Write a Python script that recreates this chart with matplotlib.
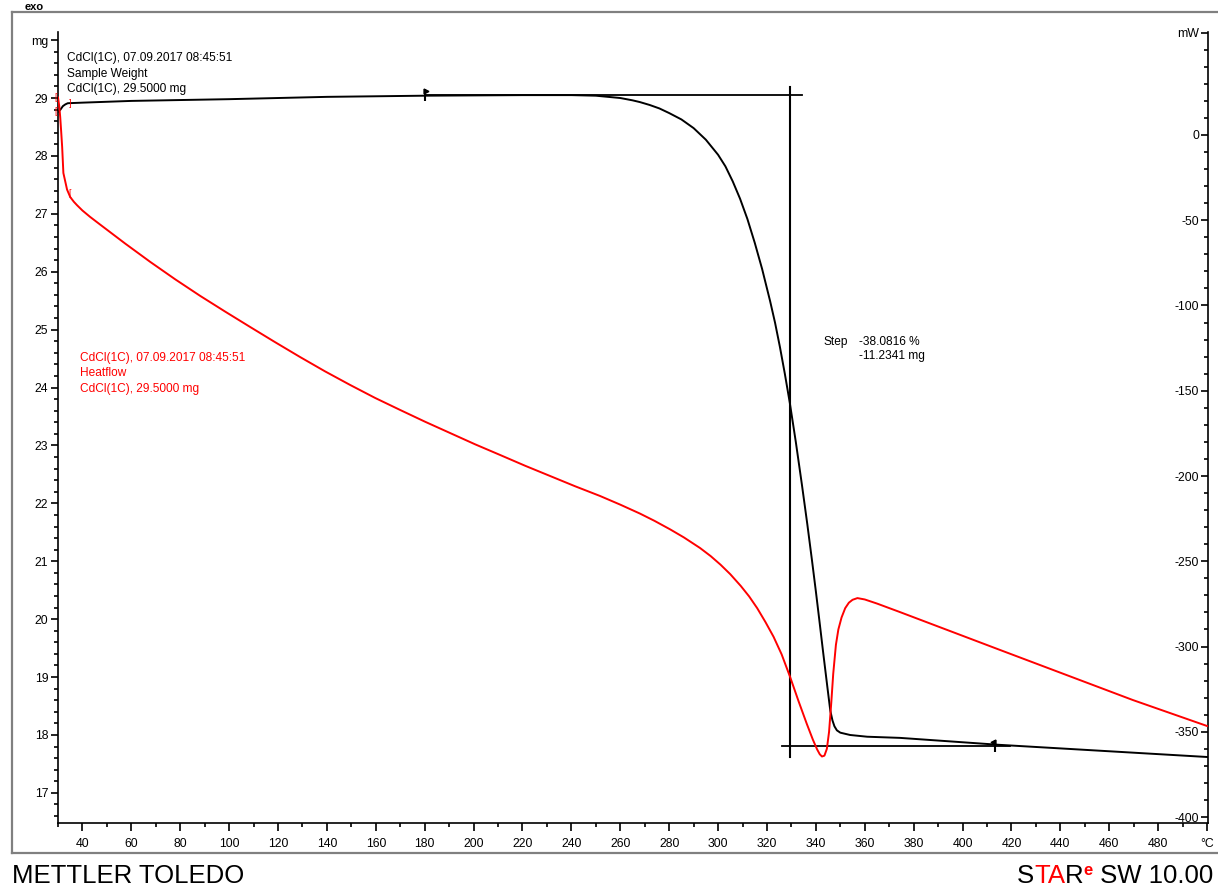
import matplotlib
matplotlib.use("Agg")
import matplotlib.pyplot as plt
from matplotlib.ticker import MultipleLocator
from matplotlib.lines import Line2D

W, H = 1218, 886
FONT = "Liberation Sans"

# TGA curve (sample weight, mg)
tga_T = [30.0, 31.0, 32.0, 33.0, 34.0, 40.0, 60.0, 100.0, 140.0, 180.0, 220.0,
         240.0, 250.0, 255.0, 260.0, 265.0, 268.0, 272.0, 276.0, 280.0, 285.0,
         290.0, 295.0, 300.0, 303.0, 306.0, 309.0, 312.0, 315.0, 318.0, 321.3,
         323.3, 325.3, 327.3, 329.4, 331.8, 334.3, 336.5, 338.4, 340.0, 341.4,
         343.0, 344.7, 345.9, 346.8, 347.6, 348.6, 350.0, 352.0, 354.0, 361.0,
         374.4, 415.0, 500.0]
tga_mg = [28.76, 28.80, 28.86, 28.89, 28.91, 28.92, 28.95, 28.98, 29.02, 29.04, 29.05,
          29.05, 29.04, 29.02, 29.00, 28.96, 28.93, 28.88, 28.82, 28.74, 28.63,
          28.48, 28.28, 28.02, 27.82, 27.56, 27.26, 26.91, 26.50, 26.05, 25.49,
          25.12, 24.70, 24.24, 23.72, 23.06, 22.32, 21.64, 21.02, 20.48, 19.99,
          19.42, 18.83, 18.42, 18.25, 18.15, 18.08, 18.04, 18.02, 18.00, 17.97,
          17.95, 17.83, 17.62]

# heat flow curve (mW)
dsc_T = [30.0, 30.5, 30.9, 31.3, 31.7, 32.2, 33.7, 35.0, 36.5, 37.8, 40.0, 43.1,
         47.2, 57.5, 67.8, 78.0, 88.2, 98.4, 108.6, 118.8, 129.0, 139.2, 149.5,
         159.7, 170.0, 180.2, 190.4, 200.6, 210.9, 221.1, 231.3, 241.5, 251.7,
         260.0, 268.0, 274.0, 280.4, 286.0, 292.6, 297.0, 301.0, 305.0, 309.3,
         312.7, 316.0, 319.4, 322.7, 326.0, 329.5, 332.9, 336.3, 338.8, 340.5,
         341.6, 342.5, 343.5, 344.5, 345.4, 346.3, 347.1, 348.2, 349.2, 350.5,
         352.0, 353.5, 355.0, 357.0, 360.0, 365.0, 374.4, 415.3, 469.7, 500.0]
dsc_mW = [22.0, 17.0, 10.6, 2.0, -7.0, -22.3, -32.0, -36.4, -39.2, -41.2, -44.3, -48.0,
          -52.5, -63.7, -74.5, -84.7, -94.4, -103.6, -112.6, -121.5, -130.2, -138.6,
          -146.6, -154.2, -161.3, -168.2, -174.8, -181.4, -187.7, -194.0, -200.0,
          -206.0, -211.7, -216.8, -222.0, -226.3, -231.3, -236.0, -242.2, -247.0,
          -252.0, -257.6, -264.5, -270.6, -277.5, -285.7, -294.3, -304.6, -318.0,
          -332.0, -345.4, -354.7, -360.3, -363.2, -364.5, -364.0, -360.0, -350.0,
          -333.0, -316.0, -299.0, -290.0, -283.0, -277.5, -274.3, -272.6, -271.6,
          -272.4, -274.8, -279.8, -302.0, -331.4, -346.6]

# step evaluation
step_T = 329.4
step_upper, step_lower = 29.05, 17.81
upper_line_T = [180.0, 334.3]
lower_line_T = [326.0, 419.4]
flag_T = [180.0, 413.2]

fig = plt.figure(figsize=(W / 100, H / 100), dpi=100)
ax = fig.add_axes([58 / W, 1 - 823 / H, (1208 - 58) / W, (823 - 32) / H])
ax2 = ax.twinx()

for a in (ax, ax2):
    a.set_facecolor("none")
    a.spines["top"].set_visible(False)
    for s in a.spines.values():
        s.set_linewidth(1.2)
ax.spines["right"].set_visible(False)
ax2.spines["left"].set_visible(False)
ax2.spines["bottom"].set_visible(False)

ax.set_xlim(30, 500.4)
ax.set_ylim(16.48, 30.14)
ax2.set_ylim(-403.5, 60.4)

tick_font = dict(fontsize=8.8, family=FONT)
xt = list(range(40, 501, 20))
ax.set_xticks(xt, labels=[str(v) for v in xt[:-1]] + ["\u00b0C"], **tick_font)
ax.xaxis.set_minor_locator(MultipleLocator(10))
yt = list(range(17, 31))
ax.set_yticks(yt, labels=[str(v) for v in yt[:-1]] + ["mg"], **tick_font)
ax.yaxis.set_minor_locator(MultipleLocator(0.2))
rt = list(range(-400, 1, 50)) + [60]
rl = [str(v) for v in rt[:-1]] + ["mW"]
ax2.set_yticks(rt, labels=rl, ha="right", **tick_font)
ax2.yaxis.set_minor_locator(MultipleLocator(10))

ax.tick_params(axis="both", which="major", length=5, width=1.2, pad=2)
ax.tick_params(axis="both", which="minor", length=3, width=1.2)
ax.tick_params(axis="x", which="major", length=6, pad=5)
ax2.tick_params(axis="y", which="major", direction="in", length=5, width=1.2, pad=-6.5)
ax2.tick_params(axis="y", which="minor", direction="in", length=3, width=1.2)

# curves
ax.plot(tga_T, tga_mg, color="black", lw=1.4, zorder=3)
ax2.plot(dsc_T, dsc_mW, color="red", lw=1.4, zorder=3)

# step construction
ax.plot(upper_line_T, [step_upper, step_upper], color="black", lw=1.3)
ax.plot(lower_line_T, [step_lower, step_lower], color="black", lw=1.3)
ax.plot([step_T, step_T], [29.19, 17.62], color="black", lw=1.5)
ax.plot(flag_T[0], step_upper, marker="|", ms=9, mew=1.5, color="black")
ax.plot(flag_T[0] + 0.7, step_upper + 0.075, marker=">", ms=3.5, color="black")
ax.plot(flag_T[1], step_lower, marker="|", ms=9, mew=1.5, color="black")
ax.plot(flag_T[1] - 0.7, step_lower + 0.075, marker="<", ms=3.5, color="black")

# small red limit marks near the start
for (px, py, s) in [(56, 98, "["), (56, 112, "["), (70, 104, "]"), (70, 194, "[")]:
    fig.text(px / W, 1 - py / H, s, color="red", fontsize=6.5, family=FONT,
             ha="center", va="center")

# annotations
ann = dict(fontsize=8.6, family=FONT, va="center")
for i, s in enumerate(["CdCl(1C), 07.09.2017 08:45:51", "Sample Weight",
                       "CdCl(1C), 29.5000 mg"]):
    fig.text(67 / W, 1 - (58 + 15.5 * i) / H, s, color="black", **ann)
for i, s in enumerate(["CdCl(1C), 07.09.2017 08:45:51", "Heatflow",
                       "CdCl(1C), 29.5000 mg"]):
    fig.text(80 / W, 1 - (358 + 15.5 * i) / H, s, color="red", **ann)
fig.text(823 / W, 1 - 342 / H, "Step", **ann)
fig.text(859 / W, 1 - 342 / H, "-38.0816 %", **ann)
fig.text(859 / W, 1 - 356 / H, "-11.2341 mg", **ann)

# outer frame
frame_kw = dict(color="#808080", lw=1.6, transform=fig.transFigure)
fig.add_artist(Line2D([12 / W, 1], [1 - 12 / H, 1 - 12 / H], **frame_kw))
fig.add_artist(Line2D([12 / W, 12 / W], [1 - 12 / H, 1 - 853 / H], **frame_kw))
fig.add_artist(Line2D([12 / W, 1], [1 - 853 / H, 1 - 853 / H], **frame_kw))

fig.text(25 / W, 1 - 10 / H, "exo", fontsize=8, fontweight="bold", family=FONT,
         va="baseline")

fig.text(12 / W, 1 - 883 / H, "METTLER TOLEDO", fontsize=18.5, family=FONT,
         va="baseline")

# STARe SW 10.00, coloured letters
fig.canvas.draw()
r = fig.canvas.get_renderer()
x = 1017
pieces = [("S", "black", 18.5, 0), ("TA", "red", 18.5, 0), ("R", "black", 18.5, 0),
          ("e", "red", 12, 8), (" SW 10.00", "black", 18.5, 0)]
for s, c, size, dy in pieces:
    t = fig.text(x / W, 1 - (883 - dy) / H, s, color=c, fontsize=size,
                 family=FONT, fontweight="bold" if s == "e" else "normal",
                 va="baseline")
    x += t.get_window_extent(renderer=r).width

fig.savefig("out.png", dpi=100)
